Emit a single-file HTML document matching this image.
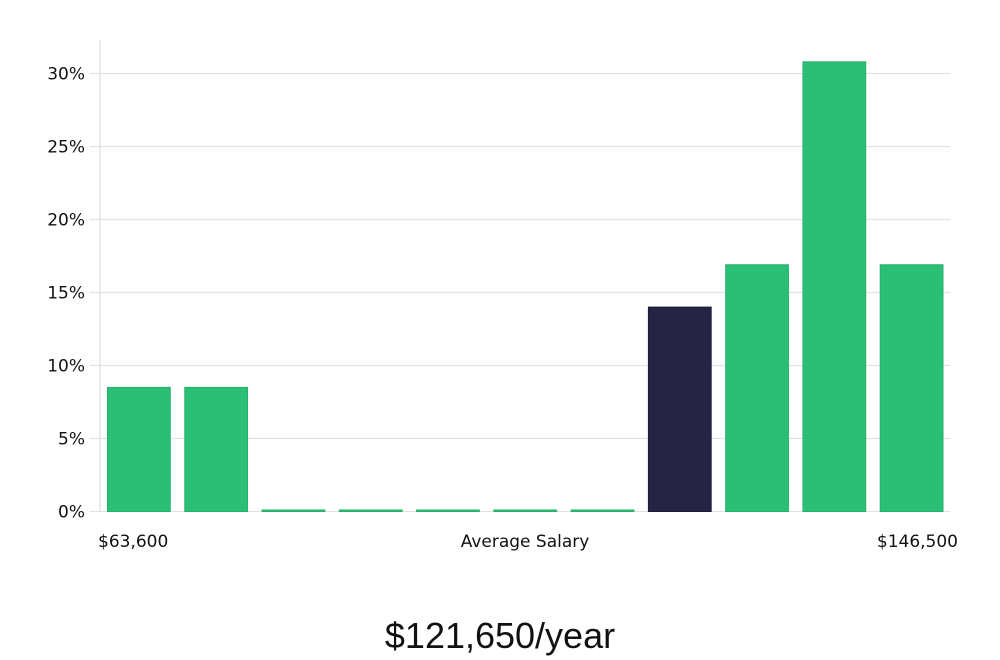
<!DOCTYPE html>
<html><head><meta charset="utf-8"><style>
html,body{margin:0;padding:0;background:#fff;width:1000px;height:660px;overflow:hidden}
svg text{font-family:"DejaVu Sans","Liberation Sans",sans-serif}
</style></head><body>
<svg id="chart" width="1000" height="660" xmlns="http://www.w3.org/2000/svg">
<g id="grid"></g>
<line x1="100" y1="40" x2="100" y2="512" stroke="#d6d6d6" stroke-width="1"/>
<g id="bars"></g>
<g id="yticks"></g>
<text x="98" y="547" font-size="17" fill="#111">$63,600</text>
<text x="525" y="547" font-size="17" fill="#111" text-anchor="middle">Average Salary</text>
<text x="958" y="547" font-size="17" fill="#111" text-anchor="end">$146,500</text>
<text x="500" y="648" font-size="36" fill="#111" text-anchor="middle" style="font-family:'Liberation Sans',sans-serif;font-weight:300">$121,650/year</text>
</svg>
<script>
const values = [8.5, 8.5, 0, 0, 0, 0, 0, 14, 16.9, 30.8, 16.9];
const highlight = [false, false, false, false, false, false, false, true, false, false, false];
const yTicks = [0, 5, 10, 15, 20, 25, 30];
const yTickLabels = ["0%", "5%", "10%", "15%", "20%", "25%", "30%"];
const NS = "http://www.w3.org/2000/svg";
const x0 = 100, x1 = 950, yBase = 511.5, pxPerUnit = 14.6;
const y = v => yBase - v * pxPerUnit;
const slot = (x1 - x0) / values.length;
const grid = document.getElementById('grid');
const yt = document.getElementById('yticks');
yTicks.forEach((t, i) => {
  const l = document.createElementNS(NS, 'line');
  
  
  l.setAttribute('x1', 90); l.setAttribute('x2', x1);
  l.setAttribute('y1', y(t)); l.setAttribute('y2', y(t));
  l.setAttribute('stroke', '#e2e2e2'); l.setAttribute('stroke-width', '1.2');
  grid.appendChild(l);
  const tx = document.createElementNS(NS, 'text');
  
  
  tx.setAttribute('x', 85); tx.setAttribute('y', y(t) + 6);
  tx.setAttribute('text-anchor', 'end'); tx.setAttribute('font-size', '17'); tx.setAttribute('fill', '#111');
  tx.textContent = yTickLabels[i];
  yt.appendChild(tx);
});
const bars = document.getElementById('bars');
values.forEach((v, i) => {
  const r = document.createElementNS(NS, 'rect');
  
  
  const h = Math.max(v * pxPerUnit, 1.5);
  r.setAttribute('x', x0 + i * slot + 7.5);
  r.setAttribute('width', slot - 14.5);
  r.setAttribute('y', yBase - h);
  r.setAttribute('height', h);
  r.setAttribute('fill', highlight[i] ? '#262444' : '#2bbf76');
  r.setAttribute('stroke', highlight[i] ? '#1c1a38' : '#25b06c');
  r.setAttribute('stroke-width', '1');
  bars.appendChild(r);
});
</script>
</body></html>
